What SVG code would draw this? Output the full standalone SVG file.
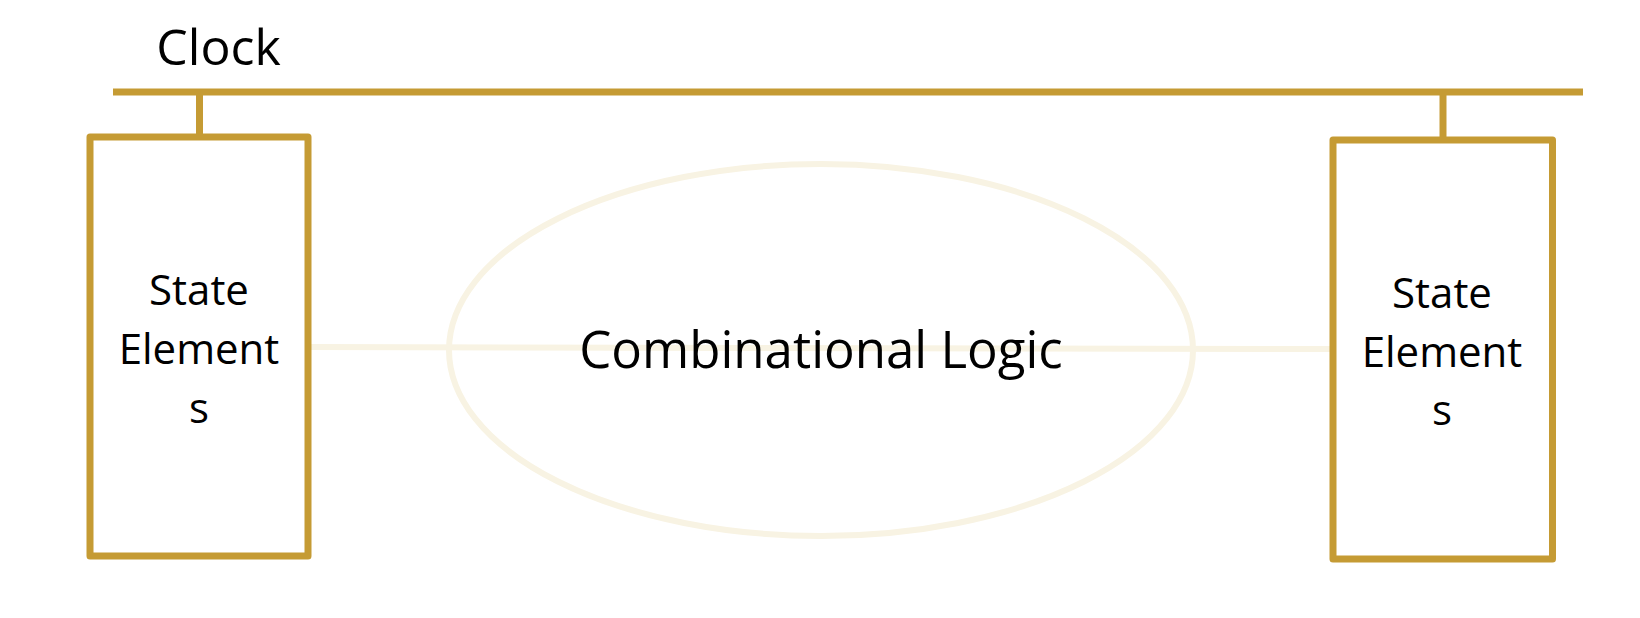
<svg xmlns="http://www.w3.org/2000/svg" width="1640" height="618" viewBox="0 0 1640 618">
<style>
.gold{stroke:#c59b34;stroke-width:7;fill:none}
.box{stroke:#c59b34;stroke-width:7;fill:none;stroke-linejoin:round}
.pale{stroke:#f8f3e3;stroke-width:6;fill:none}
.t{font-family:"Open Sans","Noto Sans",sans-serif;fill:#000;text-anchor:middle}
</style>
<rect width="1640" height="618" fill="#fff"/>
<g id="connectors">
<line class="pale" x1="311" y1="347" x2="1330" y2="349"/>
<line class="gold" x1="113" y1="92" x2="1583" y2="92"/>
<line class="gold" x1="199.5" y1="92" x2="199.5" y2="137"/>
<line class="gold" x1="1443" y1="92" x2="1443" y2="140"/>
</g>
<g id="clock">
<text class="t" x="218.5" y="65" font-size="50">Clock</text>
</g>
<g id="state-left">
<rect class="box" x="90" y="137" width="218" height="419"/>
<text class="t" x="199" y="305" font-size="42">State</text>
<text class="t" x="199" y="364" font-size="42">Element</text>
<text class="t" x="199" y="423" font-size="42">s</text>
</g>
<g id="combinational">
<ellipse class="pale" cx="821" cy="350" rx="372" ry="186"/>
<text class="t" x="821" y="368" font-size="51">Combinational Logic</text>
</g>
<g id="state-right">
<rect class="box" x="1333" y="140" width="219.5" height="419"/>
<text class="t" x="1442" y="308" font-size="42">State</text>
<text class="t" x="1442" y="367" font-size="42">Element</text>
<text class="t" x="1442" y="425" font-size="42">s</text>
</g>
</svg>
